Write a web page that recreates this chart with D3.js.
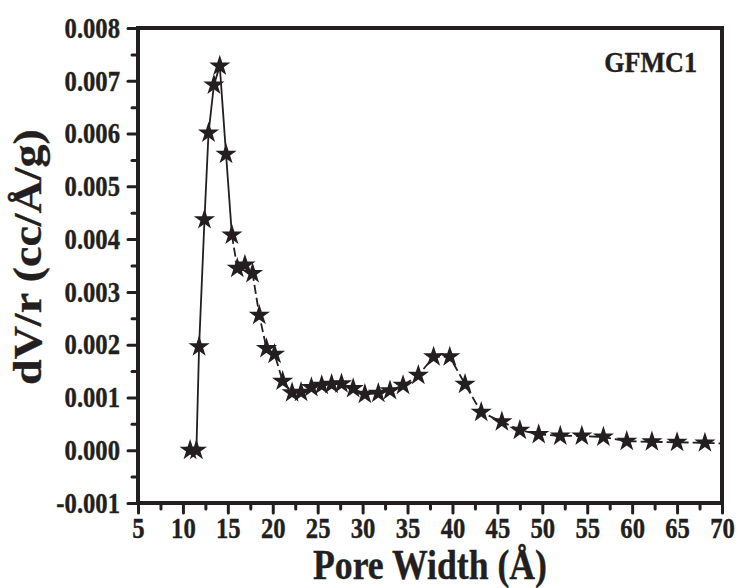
<!DOCTYPE html>
<html>
<head>
<meta charset="utf-8">
<script src="https://cdn.jsdelivr.net/npm/d3@7"></script>
<style>
  body { margin: 0; background: #ffffff; }
  svg text { font-family: "Liberation Serif", "Times New Roman", serif; font-weight: bold; fill: #231f20; stroke: #231f20; stroke-width: 0.4px; }
</style>
</head>
<body>
<svg id="chart" width="738" height="588"></svg>
<script>
// Pore size distribution of GFMC1
const poreWidth = [10.8, 11.5, 11.8, 12.4, 12.85, 13.45, 14.1, 14.8, 15.45, 16.05,
                   16.9, 17.75, 18.5, 19.3, 20.2, 21.1, 22.15, 23.15, 24.3, 25.45,
                   26.55, 27.65, 28.95, 30.25, 31.75, 33.05, 34.5, 36.2, 37.9, 39.7,
                   41.4, 43.2, 45.5, 47.5, 49.6, 52.0, 54.4, 56.8, 59.4, 62.2,
                   65.0, 68.1, 71.0];
const dVr = [0.00000, 0.00000, 0.00196, 0.00437, 0.00601, 0.00692, 0.00728, 0.00561, 0.00408, 0.00345,
             0.00351, 0.00335, 0.00256, 0.00193, 0.00182, 0.00131, 0.00109, 0.00110, 0.00119, 0.00123,
             0.00125, 0.00126, 0.00117, 0.00106, 0.00108, 0.00113, 0.00123, 0.00142, 0.00177, 0.00177,
             0.00125, 0.00072, 0.00054, 0.00038, 0.00030, 0.00027, 0.00027, 0.00025, 0.00017, 0.00016,
             0.00015, 0.00014, 0.00012];
const xTicks = [5, 10, 15, 20, 25, 30, 35, 40, 45, 50, 55, 60, 65, 70];
const xMinorTicks = [7.5, 12.5, 17.5, 22.5, 27.5, 32.5, 37.5, 42.5, 47.5, 52.5, 57.5, 62.5, 67.5];
const yTicks = [-0.001, 0.000, 0.001, 0.002, 0.003, 0.004, 0.005, 0.006, 0.007, 0.008];
const yMinorTicks = [-0.0005, 0.0005, 0.0015, 0.0025, 0.0035, 0.0045, 0.0055, 0.0065, 0.0075];
const sampleName = "GFMC1";
const xTitle = "Pore Width (Å)";
const yTitle = "dV/r (cc/Å/g)";

const ink = "#231f20";
const narrow = 0.85;           // horizontal squeeze applied to the serif lettering
const svg = d3.select("#chart");
const plot = { left: 138, right: 722, top: 28, bottom: 503 };

const x = d3.scaleLinear().domain([5, 70]).range([plot.left, plot.right]);
const y = d3.scaleLinear().domain([-0.001, 0.008]).range([plot.bottom, plot.top]);

svg.append("defs").append("clipPath").attr("id", "plot-clip")
  .append("rect")
  .attr("x", plot.left).attr("y", plot.top)
  .attr("width", plot.right - plot.left).attr("height", plot.bottom - plot.top);

const points = poreWidth.map((w, i) => ({ w, v: dVr[i] }));
const line = d3.line().x(d => x(d.w)).y(d => y(d.v));

const series = svg.append("g").attr("clip-path", "url(#plot-clip)");

// rising limb drawn solid, the rest of the curve dashed
const splitAt = 8;
series.append("path")
  .datum(points.slice(0, splitAt + 1))
  .attr("d", line)
  .attr("fill", "none").attr("stroke", ink).attr("stroke-width", 1.8);
series.append("path")
  .datum(points.slice(splitAt))
  .attr("d", line)
  .attr("fill", "none").attr("stroke", ink).attr("stroke-width", 1.8)
  .attr("stroke-dasharray", "9,4");

const star = d3.symbol().type(d3.symbolStar).size(140);
series.selectAll("path.pt")
  .data(points)
  .join("path")
  .attr("class", "pt")
  .attr("transform", d => `translate(${x(d.w)},${y(d.v)})`)
  .attr("d", star)
  .attr("fill", ink);

// axes
const tickFont = 29;
function styleTicks(g) {
  g.select(".domain").remove();
  g.selectAll(".tick line").attr("stroke", ink).attr("stroke-width", 3).attr("stroke-linecap", "round");
  g.attr("font-family", null).attr("font-size", tickFont);
}
const fmtY = v => d3.format(".3f")(v).replace("−", "-");

svg.append("g")
  .attr("transform", `translate(0,${plot.bottom})`)
  .call(d3.axisBottom(x).tickValues(xMinorTicks).tickSize(6).tickFormat(""))
  .call(styleTicks);
svg.append("g")
  .attr("transform", `translate(0,${plot.bottom})`)
  .call(d3.axisBottom(x).tickValues(xTicks).tickSize(10).tickPadding(4).tickFormat(d3.format("d")))
  .call(styleTicks)
  .call(g => g.selectAll(".tick text").attr("transform", `scale(${narrow},1)`));

svg.append("g")
  .attr("transform", `translate(${plot.left},0)`)
  .call(d3.axisLeft(y).tickValues(yMinorTicks).tickSize(6).tickFormat(""))
  .call(styleTicks);
svg.append("g")
  .attr("transform", `translate(${plot.left},0)`)
  .call(d3.axisLeft(y).tickValues(yTicks).tickSize(10).tickPadding(8).tickFormat(fmtY))
  .call(styleTicks)
  .call(g => g.selectAll(".tick text")
    .attr("x", -18 / narrow)
    .attr("transform", `scale(${narrow},1)`));

// frame
svg.append("rect")
  .attr("x", plot.left).attr("y", plot.top)
  .attr("width", plot.right - plot.left).attr("height", plot.bottom - plot.top)
  .attr("fill", "none").attr("stroke", ink).attr("stroke-width", 4);

// titles
svg.append("text")
  .attr("transform", `translate(${(plot.left + plot.right) / 2},579) scale(${narrow},1)`)
  .attr("text-anchor", "middle").attr("font-size", 42)
  .text(xTitle);

svg.append("text")
  .attr("transform", `translate(41,257) rotate(-90) scale(1,${narrow})`)
  .attr("text-anchor", "middle").attr("font-size", 46)
  .text(yTitle);

svg.append("text")
  .attr("transform", `translate(697,72) scale(0.9,1)`)
  .attr("text-anchor", "end").attr("font-size", 29)
  .text(sampleName);
</script>
</body>
</html>
